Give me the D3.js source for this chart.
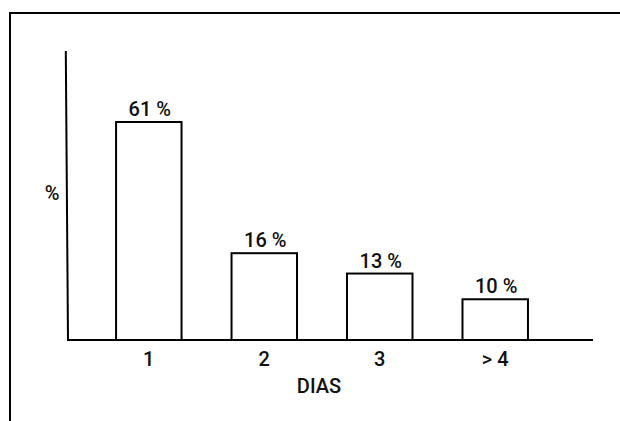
<!DOCTYPE html>
<html>
<head>
<meta charset="utf-8">
<script src="https://cdn.jsdelivr.net/npm/d3@7"></script>
<style>
  html, body { margin: 0; padding: 0; background: #fff; }
  svg { display: block; }
  text { font-family: Roboto, "Open Sans", sans-serif; fill: #111; font-weight: 500; }
</style>
</head>
<body>
<svg id="chart" width="620" height="421"></svg>
<script>
// Data
const categories = ["1", "2", "3", "> 4"];
const percents = [61, 16, 13, 10];
const valueLabels = ["61 %", "16 %", "13 %", "10 %"];
const xTitle = "DIAS";
const yTitle = "%";

const svg = d3.select("#chart");
const W = 620, H = 421;
const FS = 20;

// Frame (scanned page border: top and left only)
svg.append("line").attr("x1", 9).attr("x2", W).attr("y1", 13).attr("y2", 13)
  .attr("stroke", "#000").attr("stroke-width", 2);
svg.append("line").attr("x1", 10).attr("x2", 10).attr("y1", 12).attr("y2", H)
  .attr("stroke", "#000").attr("stroke-width", 2);

const plot = { left: 67, right: 593, top: 51, bottom: 340 };

const x = d3.scaleBand()
  .domain(categories)
  .range([plot.left, plot.right])
  .paddingInner(0.433)
  .paddingOuter(0.494)
  .align(0.43);

const y = d3.scaleLog()
  .domain([6.6, 61])
  .range([plot.bottom, 122]);

// Bars
svg.append("g").selectAll("rect")
  .data(percents)
  .join("rect")
  .attr("x", (d, i) => x(categories[i]))
  .attr("y", d => y(d))
  .attr("width", x.bandwidth())
  .attr("height", d => plot.bottom - y(d))
  .attr("fill", "#fff")
  .attr("stroke", "#000")
  .attr("stroke-width", 2);

// Value labels
svg.append("g").selectAll("text")
  .data(percents)
  .join("text")
  .attr("x", (d, i) => x(categories[i]) + x.bandwidth() / 2 + 1)
  .attr("y", d => y(d) - 6)
  .attr("text-anchor", "middle")
  .attr("font-size", FS)
  .text((d, i) => valueLabels[i]);

// Axes
const xAxis = d3.axisBottom(x).tickSize(0).tickPadding(12);
const gx = svg.append("g")
  .attr("transform", `translate(0,${plot.bottom})`)
  .call(xAxis);
gx.select(".domain").remove();
gx.selectAll("text").attr("font-size", FS).attr("fill", "#111")
  .attr("font-family", "Roboto, Open Sans, sans-serif");

svg.append("line")
  .attr("x1", plot.left).attr("x2", plot.right)
  .attr("y1", plot.bottom).attr("y2", plot.bottom)
  .attr("stroke", "#000").attr("stroke-width", 2);

svg.append("line")
  .attr("x1", 65.8).attr("x2", 68)
  .attr("y1", plot.top).attr("y2", plot.bottom + 1)
  .attr("stroke", "#000").attr("stroke-width", 2);

// Axis titles
svg.append("text")
  .attr("x", (plot.left + plot.right) / 2 - 11)
  .attr("y", 393)
  .attr("text-anchor", "middle")
  .attr("font-size", FS)
  .text(xTitle);

svg.append("text")
  .attr("x", 52)
  .attr("y", 200)
  .attr("text-anchor", "middle")
  .attr("font-size", FS)
  .text(yTitle);
</script>
</body>
</html>
